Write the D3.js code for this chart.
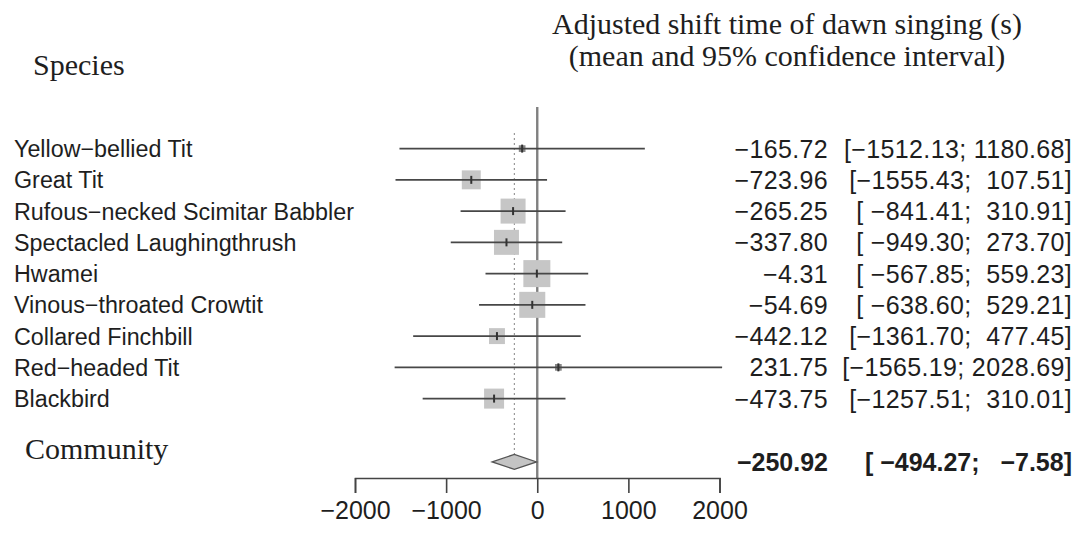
<!DOCTYPE html>
<html>
<head>
<meta charset="utf-8">
<script src="https://cdn.jsdelivr.net/npm/d3@7"></script>
<style>
  html, body { margin: 0; padding: 0; background: #fff; }
  svg { display: block; }
  .sans { font-family: "Liberation Sans", Arial, sans-serif; }
  .serif { font-family: "Liberation Serif", "Times New Roman", serif; }
</style>
</head>
<body>
<script>
// ---- data ----
const species = ["Yellow\u2212bellied Tit", "Great Tit", "Rufous\u2212necked Scimitar Babbler",
  "Spectacled Laughingthrush", "Hwamei", "Vinous\u2212throated Crowtit", "Collared Finchbill",
  "Red\u2212headed Tit", "Blackbird"];
const means = [-165.72, -723.96, -265.25, -337.80, -4.31, -54.69, -442.12, 231.75, -473.75];
const lower = [-1512.13, -1555.43, -841.41, -949.30, -567.85, -638.60, -1361.70, -1565.19, -1257.51];
const upper = [1180.68, 107.51, 310.91, 273.70, 559.23, 529.21, 477.45, 2028.69, 310.01];
const weights = [1.2, 9.6, 16.7, 16.7, 19.5, 18.1, 6.8, 1.2, 10.7];
const pooledLabel = "Community";
const pooledMean = -250.92, pooledLower = -494.27, pooledUpper = -7.58;
const xTicks = [-2000, -1000, 0, 1000, 2000];
const titleLines = ["Adjusted shift time of dawn singing (s)", "(mean and 95% confidence interval)"];
const leftHeader = "Species";

// ---- layout ----
const W = 1079, H = 538;
const svg = d3.select("body").append("svg").attr("width", W).attr("height", H);

const x = d3.scaleLinear().domain([-2000, 2000]).range([355, 719.5]);
const y = d3.scaleLinear().domain([0, 8]).range([148.6, 398.6]);
const yPooled = y(10) + 0.8;
const size = d3.scaleSqrt().domain([0, d3.max(weights)]).range([0, 27]);

const fmt = v => v.toFixed(2).replace("-", "\u2212");
const pad = (s, n) => " ".repeat(Math.max(0, n - s.length)) + s;
const allLower = lower.concat([pooledLower]).map(v => v.toFixed(2));
const allUpper = upper.concat([pooledUpper]).map(v => v.toFixed(2));
const wl = d3.max(allLower, s => s.length), wu = d3.max(allUpper, s => s.length);
const ciStr = (lo, hi) => ("[" + pad(lo.toFixed(2), wl) + "; " + pad(hi.toFixed(2), wu) + "]").replace(/-/g, "\u2212");

// reference lines
svg.append("line")
  .attr("x1", x(0)).attr("x2", x(0)).attr("y1", 107).attr("y2", 478)
  .attr("stroke", "#808080").attr("stroke-width", 2.4);
svg.append("line")
  .attr("x1", x(pooledMean)).attr("x2", x(pooledMean)).attr("y1", 133).attr("y2", yPooled - 7)
  .attr("stroke", "#999").attr("stroke-width", 1.2).attr("stroke-dasharray", "2,3");

const rows = svg.append("g").selectAll("g").data(species).join("g");
// squares
rows.append("rect")
  .attr("x", (d, i) => x(means[i]) - size(weights[i]) / 2)
  .attr("y", (d, i) => y(i) - size(weights[i]) / 2)
  .attr("width", (d, i) => size(weights[i]))
  .attr("height", (d, i) => size(weights[i]))
  .attr("fill", (d, i) => weights[i] < 3 ? "#888" : "#c6c6c6");
// CI lines
rows.append("line")
  .attr("x1", (d, i) => x(lower[i])).attr("x2", (d, i) => x(upper[i]))
  .attr("y1", (d, i) => y(i)).attr("y2", (d, i) => y(i))
  .attr("stroke", "#474747").attr("stroke-width", 1.8);
// point marks
rows.append("line")
  .attr("x1", (d, i) => x(means[i])).attr("x2", (d, i) => x(means[i]))
  .attr("y1", (d, i) => y(i) - 4).attr("y2", (d, i) => y(i) + 4)
  .attr("stroke", "#333").attr("stroke-width", 2);

// labels
rows.append("text").attr("class", "sans")
  .attr("x", 14).attr("y", (d, i) => y(i) + 8.5)
  .attr("font-size", 23.3).attr("fill", "#1e1e1e")
  .text(d => d);
rows.append("text").attr("class", "sans")
  .attr("x", 828).attr("y", (d, i) => y(i) + 9)
  .attr("text-anchor", "end").attr("font-size", 25).attr("letter-spacing", 0.35).attr("fill", "#1e1e1e")
  .text((d, i) => fmt(means[i]));
rows.append("text").attr("class", "sans")
  .attr("x", 1072).attr("y", (d, i) => y(i) + 9)
  .attr("text-anchor", "end").attr("font-size", 25).attr("letter-spacing", 0.35).attr("fill", "#1e1e1e")
  .attr("xml:space", "preserve").style("white-space", "pre")
  .text((d, i) => ciStr(lower[i], upper[i]));

// pooled diamond
const dh = 7.5;
svg.append("path")
  .attr("d", d3.line()([[x(pooledLower), yPooled], [x(pooledMean), yPooled - dh],
    [x(pooledUpper), yPooled], [x(pooledMean), yPooled + dh]]) + "Z")
  .attr("fill", "#c4c4c4").attr("stroke", "#555").attr("stroke-width", 1.3);
svg.append("text").attr("class", "serif")
  .attr("x", 25).attr("y", 459).attr("font-size", 30).attr("fill", "#1e1e1e")
  .text(pooledLabel);
svg.append("text").attr("class", "sans")
  .attr("x", 828).attr("y", yPooled + 9).attr("text-anchor", "end")
  .attr("font-size", 25).attr("font-weight", "bold").attr("fill", "#1e1e1e")
  .text(fmt(pooledMean));
svg.append("text").attr("class", "sans")
  .attr("x", 1072).attr("y", yPooled + 9).attr("text-anchor", "end")
  .attr("font-size", 25).attr("font-weight", "bold").attr("fill", "#1e1e1e")
  .attr("xml:space", "preserve").style("white-space", "pre")
  .text(ciStr(pooledLower, pooledUpper));

// axis
const axis = d3.axisBottom(x).tickValues(xTicks).tickSize(15).tickPadding(8)
  .tickFormat(d => String(d).replace("-", "\u2212"));
const ag = svg.append("g").attr("transform", "translate(0,478)").call(axis);
ag.select(".domain").attr("stroke", "#444").attr("stroke-width", 1.6);
ag.selectAll(".tick line").attr("stroke", "#444").attr("stroke-width", 1.6);
ag.selectAll(".tick text").attr("class", "sans").attr("font-size", 25)
  .attr("fill", "#1e1e1e").attr("font-family", "Liberation Sans, Arial, sans-serif");

// headers
svg.append("text").attr("class", "serif")
  .attr("x", 33).attr("y", 75).attr("font-size", 30).attr("fill", "#1e1e1e")
  .text(leftHeader);
svg.append("g").selectAll("text").data(titleLines).join("text")
  .attr("class", "serif")
  .attr("x", 787).attr("y", (d, i) => 34 + i * 31.5)
  .attr("text-anchor", "middle").attr("font-size", 30).attr("fill", "#1e1e1e")
  .text(d => d);
</script>
</body>
</html>
